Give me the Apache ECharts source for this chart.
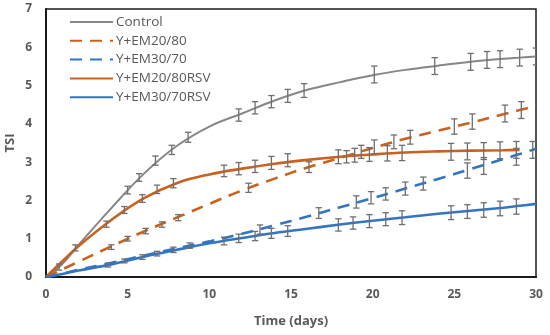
<!DOCTYPE html>
<html>
<head>
<meta charset="utf-8">
<script src="https://cdn.jsdelivr.net/npm/echarts@6/dist/echarts.min.js"></script>
<style>
html,body{margin:0;padding:0;background:#fff;}
#chart{width:550px;height:335px;}
</style>
</head>
<body>
<div id="chart"></div>
<script>
// ---- data ----
const seriesNames = ['Control', 'Y+EM20/80', 'Y+EM30/70', 'Y+EM20/80RSV', 'Y+EM30/70RSV'];
const xTicks = [0, 5, 10, 15, 20, 25, 30];
const yTicks = [0, 1, 2, 3, 4, 5, 6, 7];

// fitted (trend) curves drawn as lines
const trendDays      = [0, 1, 2, 4, 6, 8, 10, 12, 14, 16, 18, 20, 22, 24, 26, 28, 29, 30];
const controlTrend   = [0, 0.34, 0.84, 1.80, 2.70, 3.42, 3.93, 4.27, 4.61, 4.89, 5.09, 5.27, 5.41, 5.52, 5.62, 5.70, 5.73, 5.76];
const em2080Trend    = [0, 0.20, 0.40, 0.80, 1.19, 1.55, 1.91, 2.26, 2.57, 2.86, 3.11, 3.37, 3.61, 3.82, 4.03, 4.25, 4.36, 4.47];
const em3070Trend    = [0, 0.09, 0.19, 0.37, 0.56, 0.75, 0.93, 1.13, 1.35, 1.58, 1.82, 2.06, 2.31, 2.56, 2.82, 3.08, 3.21, 3.35];
const em2080rsvTrend = [0, 0.41, 0.81, 1.49, 2.06, 2.45, 2.68, 2.83, 2.96, 3.06, 3.14, 3.20, 3.25, 3.28, 3.30, 3.31, 3.32, null];
const em3070rsvTrend = [0, 0.08, 0.17, 0.33, 0.53, 0.71, 0.88, 1.02, 1.15, 1.26, 1.37, 1.47, 1.56, 1.65, 1.73, 1.81, 1.86, 1.91];

// measured points with error bars (mean ± err)
const controlDays = [0.8, 1.8, 5.0, 5.7, 6.7, 7.7, 8.7, 11.8, 12.8, 13.8, 14.8, 15.8, 20.1, 23.8, 26.0, 27.0, 27.8, 29.0, 30.0];
const controlTSI  = [0.26, 0.76, 2.27, 2.60, 3.04, 3.32, 3.65, 4.23, 4.42, 4.58, 4.73, 4.87, 5.29, 5.51, 5.62, 5.67, 5.69, 5.73, 5.76];
const controlErr  = [0.08, 0.08, 0.10, 0.10, 0.12, 0.12, 0.13, 0.16, 0.16, 0.16, 0.17, 0.18, 0.22, 0.22, 0.22, 0.22, 0.22, 0.22, 0.22];

const em2080Days = [4.0, 5.0, 6.1, 7.1, 8.1, 12.4, 16.1, 18.4, 19.3, 20.1, 21.3, 22.3, 25.0, 26.1, 28.1, 29.1];
const em2080TSI  = [0.78, 1.00, 1.20, 1.37, 1.55, 2.33, 2.87, 3.14, 3.27, 3.40, 3.53, 3.65, 3.93, 4.06, 4.27, 4.36];
const em2080Err  = [0.06, 0.06, 0.07, 0.07, 0.08, 0.12, 0.14, 0.16, 0.17, 0.18, 0.18, 0.18, 0.20, 0.20, 0.22, 0.22];

const em3070Days = [8.8, 13.1, 16.7, 19.0, 19.9, 20.8, 22.0, 23.1, 25.8, 26.8, 28.8, 29.8];
const em3070TSI  = [0.82, 1.24, 1.67, 1.96, 2.07, 2.17, 2.31, 2.44, 2.78, 2.90, 3.14, 3.32];
const em3070Err  = [0.07, 0.12, 0.14, 0.16, 0.16, 0.16, 0.17, 0.17, 0.20, 0.22, 0.22, 0.22];

const em2080rsvDays = [3.7, 4.8, 5.9, 6.8, 7.8, 10.9, 11.8, 12.8, 13.8, 14.8, 17.9, 18.9, 19.8, 20.9, 21.8, 24.8, 25.8, 26.8, 27.8, 28.8];
const em2080rsvTSI  = [1.38, 1.75, 2.05, 2.29, 2.45, 2.77, 2.83, 2.89, 2.98, 3.05, 3.14, 3.18, 3.20, 3.23, 3.24, 3.27, 3.28, 3.29, 3.31, 3.32];
const em2080rsvErr  = [0.08, 0.09, 0.10, 0.11, 0.12, 0.15, 0.16, 0.16, 0.17, 0.17, 0.18, 0.18, 0.18, 0.20, 0.20, 0.22, 0.22, 0.22, 0.22, 0.22];

const em3070rsvDays = [3.8, 4.8, 5.9, 6.8, 7.8, 10.9, 11.8, 12.8, 13.8, 14.8, 17.9, 18.8, 19.8, 20.8, 21.8, 24.8, 25.8, 26.8, 27.8, 28.8];
const em3070rsvTSI  = [0.31, 0.42, 0.52, 0.61, 0.71, 0.94, 1.01, 1.07, 1.14, 1.20, 1.36, 1.41, 1.46, 1.51, 1.55, 1.68, 1.71, 1.75, 1.79, 1.84];
const em3070rsvErr  = [0.05, 0.05, 0.06, 0.06, 0.07, 0.10, 0.11, 0.12, 0.13, 0.14, 0.16, 0.16, 0.17, 0.17, 0.18, 0.18, 0.18, 0.19, 0.19, 0.20];

// ---- build ----
const GRAY = '#878787', ORANGE = '#c9611f', BLUE = '#3375c2';
const FONT = 'Open Sans';

function pairs(xs, ys) {
  const out = [];
  xs.forEach((x, i) => { if (ys[i] !== null) out.push([x, ys[i]]); });
  return out;
}
function bars(xs, ys, es) { return xs.map((x, i) => [x, ys[i], es[i]]); }

function renderErr(params, api) {
  const x = api.value(0), y = api.value(1), e = api.value(2);
  const t = api.coord([x, y + e]);
  const b = api.coord([x, y - e]);
  const hw = 3.2;
  const st = { stroke: '#6f6f6f', lineWidth: 1.3 };
  return {
    type: 'group',
    children: [
      { type: 'line', shape: { x1: t[0], y1: t[1], x2: b[0], y2: b[1] }, style: st },
      { type: 'line', shape: { x1: t[0] - hw, y1: t[1], x2: t[0] + hw, y2: t[1] }, style: st },
      { type: 'line', shape: { x1: b[0] - hw, y1: b[1], x2: b[0] + hw, y2: b[1] }, style: st }
    ]
  };
}

function lineSeries(name, ys, color, dashed, width) {
  return {
    name: name, type: 'line', data: pairs(trendDays, ys),
    smooth: 0.4,
    symbol: 'none', showSymbol: false,
    lineStyle: { color: color, width: width, type: dashed ? [12, 8] : 'solid' },
    itemStyle: { color: color },
    z: 3, animation: false
  };
}
function errSeries(xs, ys, es) {
  return {
    type: 'custom', renderItem: renderErr, data: bars(xs, ys, es),
    encode: { x: 0, y: 1 }, z: 5, clip: true, animation: false, silent: true
  };
}

const chart = echarts.init(document.getElementById('chart'), null, { renderer: 'canvas' });
chart.setOption({
  animation: false,
  backgroundColor: '#fff',
  grid: {
    left: 46, right: 14, top: 9, bottom: 58, containLabel: false, outerBoundsMode: 'none',
    show: true, borderColor: '#1a1a1a', borderWidth: 1.5, backgroundColor: 'transparent'
  },
  legend: {
    data: seriesNames,
    orient: 'vertical', left: 69, top: 15,
    itemWidth: 43, itemHeight: 14, itemGap: 4.8, padding: 0,
    itemStyle: { opacity: 0, borderWidth: 0 },
    textStyle: { fontFamily: FONT, fontSize: 13.5, color: '#595959', padding: [0, 0, 0, -2] }
  },
  xAxis: {
    type: 'value', min: xTicks[0], max: xTicks[xTicks.length - 1], interval: 5,
    name: 'Time (days)', nameLocation: 'middle', nameGap: 38, nameMoveOverlap: false,
    nameTextStyle: { fontFamily: FONT, fontSize: 13, fontWeight: 'bold', color: '#595959' },
    axisLine: { show: true, lineStyle: { color: '#1a1a1a', width: 2 } },
    axisTick: { show: false },
    splitLine: { show: false },
    axisLabel: { margin: 12, fontFamily: FONT, fontSize: 12, fontWeight: 'bold', color: '#595959' }
  },
  yAxis: {
    type: 'value', min: yTicks[0], max: yTicks[yTicks.length - 1], interval: 1,
    name: 'TSI', nameLocation: 'middle', nameGap: 29, nameMoveOverlap: false,
    nameTextStyle: { fontFamily: FONT, fontSize: 13, fontWeight: 'bold', color: '#595959' },
    axisLine: { show: true, lineStyle: { color: '#1a1a1a', width: 2 } },
    axisTick: { show: false },
    splitLine: { show: false },
    axisLabel: { margin: 14, fontFamily: FONT, fontSize: 12, fontWeight: 'bold', color: '#595959' }
  },
  series: [
    lineSeries(seriesNames[0], controlTrend, GRAY, false, 2),
    lineSeries(seriesNames[1], em2080Trend, ORANGE, true, 2.6),
    lineSeries(seriesNames[2], em3070Trend, BLUE, true, 2.6),
    lineSeries(seriesNames[3], em2080rsvTrend, ORANGE, false, 2.6),
    lineSeries(seriesNames[4], em3070rsvTrend, BLUE, false, 2.6),
    errSeries(controlDays, controlTSI, controlErr),
    errSeries(em2080Days, em2080TSI, em2080Err),
    errSeries(em3070Days, em3070TSI, em3070Err),
    errSeries(em2080rsvDays, em2080rsvTSI, em2080rsvErr),
    errSeries(em3070rsvDays, em3070rsvTSI, em3070rsvErr)
  ]
});
</script>
</body>
</html>
